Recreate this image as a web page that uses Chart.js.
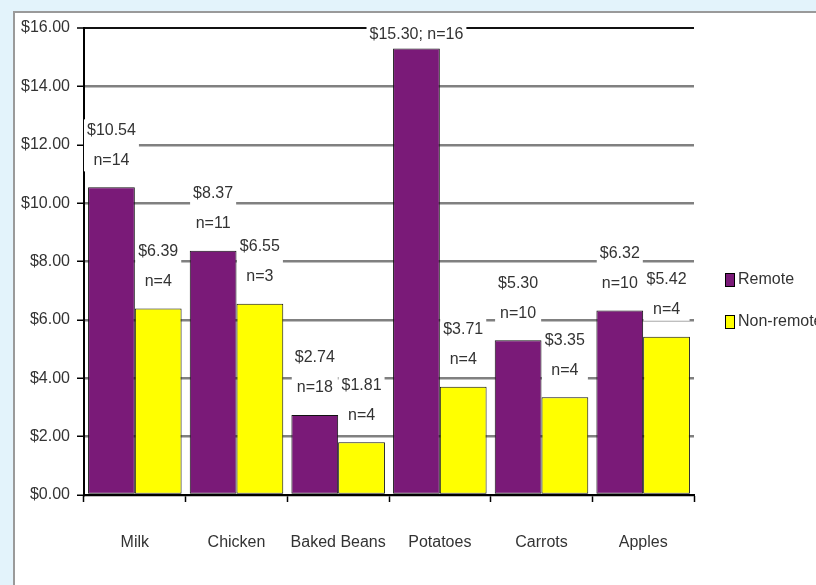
<!DOCTYPE html>
<html>
<head>
<meta charset="utf-8">
<script src="https://cdn.jsdelivr.net/npm/chart.js@4"></script>
<style>
  html, body { margin: 0; padding: 0; }
  body { width: 816px; height: 585px; background: #e3f3fb; position: relative; overflow: hidden; }
  .panel { position: absolute; left: 13px; top: 11px; width: 820px; height: 590px; background: #fff;
           border-left: 2px solid #9a9a9a; border-top: 2px solid #9a9a9a; }
  #chart { position: absolute; left: 0; top: 0; }
</style>
</head>
<body>
<div class="panel"></div>
<canvas id="chart" width="816" height="585"></canvas>
<script>
// Food prices, remote vs non-remote stores
const categories = ['Milk', 'Chicken', 'Baked Beans', 'Potatoes', 'Carrots', 'Apples'];
const remotePrices = [10.54, 8.37, 2.74, 15.30, 5.30, 6.32];
const nonRemotePrices = [6.39, 6.55, 1.81, 3.71, 3.35, 5.42];
const remoteCounts = [14, 11, 18, 16, 10, 10];
const nonRemoteCounts = [4, 3, 4, 4, 4, 4];
const yTicks = [0, 2, 4, 6, 8, 10, 12, 14, 16];

const FONT = '"Liberation Sans Narrow", "Liberation Sans", sans-serif';
const PURPLE = '#7a1a78';
const YELLOW = '#ffff00';

// price + count labels sitting on white boxes above each bar
const barLabels = {
    id: 'barLabels',
    beforeDatasetsDraw(chart) {
        const ctx = chart.ctx;
        const counts = [remoteCounts, nonRemoteCounts];
        ctx.save();
        ctx.font = '16px ' + FONT;
        ctx.textAlign = 'center';
        ctx.textBaseline = 'middle';
        chart.data.datasets.forEach((ds, di) => {
            chart.getDatasetMeta(di).data.forEach((bar, i) => {
                const price = '$' + ds.data[i].toFixed(2);
                const n = 'n=' + counts[di][i];
                let lines, ys;
                if (bar.y - 66 < chart.chartArea.top) {
                    // no room for two lines under the top gridline
                    lines = [price + '; ' + n];
                    ys = [bar.y - 14];
                } else {
                    lines = [price, n];
                    ys = [bar.y - 57, bar.y - 27];
                }
                const w = Math.max(...lines.map(t => ctx.measureText(t).width)) + 6;
                ctx.fillStyle = '#fff';
                ctx.fillRect(bar.x - w / 2, ys[0] - 11, w, ys[ys.length - 1] - ys[0] + 22);
                ctx.fillStyle = '#333';
                lines.forEach((t, k) => ctx.fillText(t, bar.x, ys[k]));
            });
        });
        ctx.restore();
    }
};

// legend at the right edge
const sideLegend = {
    id: 'sideLegend',
    afterDraw(chart) {
        const ctx = chart.ctx;
        ctx.save();
        ctx.font = '16px ' + FONT;
        ctx.textBaseline = 'middle';
        ctx.textAlign = 'left';
        const rows = [280, 322];
        chart.data.datasets.forEach((ds, i) => {
            const y = rows[i];
            ctx.fillStyle = ds.backgroundColor;
            ctx.fillRect(725, y - 7, 10, 14);
            ctx.strokeStyle = '#000';
            ctx.lineWidth = 1;
            ctx.strokeRect(725.5, y - 6.5, 9, 13);
            ctx.fillStyle = '#333';
            ctx.fillText(ds.label, 738, y);
        });
        ctx.restore();
    }
};

new Chart(document.getElementById('chart'), {
    type: 'bar',
    data: {
        labels: categories,
        datasets: [
            { label: 'Remote', data: remotePrices, backgroundColor: PURPLE },
            { label: 'Non-remote', data: nonRemotePrices, backgroundColor: YELLOW }
        ]
    },
    options: {
        responsive: false,
        animation: false,
        layout: { padding: { left: 0, top: 28, right: 122, bottom: 0 } },
        datasets: {
            bar: {
                categoryPercentage: 0.92,
                barPercentage: 1,
                borderColor: '#111',
                borderWidth: 1,
                borderSkipped: false
            }
        },
        plugins: {
            legend: { display: false },
            tooltip: { enabled: false }
        },
        scales: {
            x: {
                afterFit(scale) { scale.height = 90; },
                grid: { drawOnChartArea: false, drawTicks: true, tickLength: 7, tickColor: '#000', tickWidth: 1.5 },
                border: { color: '#000', width: 2 },
                ticks: { color: '#333', padding: 31, font: { family: FONT, size: 16 }, maxRotation: 0 }
            },
            y: {
                min: 0,
                max: 16,
                afterFit(scale) { scale.width = 84; },
                afterBuildTicks(scale) { scale.ticks = yTicks.map(v => ({ value: v })); },
                grid: {
                    color: c => (c.tick && c.tick.value === 16) ? '#111' : '#808080',
                    lineWidth: c => (c.tick && c.tick.value === 16) ? 2 : 2.5,
                    tickLength: 7,
                    tickColor: '#000',
                    tickWidth: 1.5
                },
                border: { color: '#000', width: 2 },
                ticks: {
                    color: '#333',
                    padding: 7,
                    font: { family: FONT, size: 16 },
                    callback: v => '$' + Number(v).toFixed(2)
                }
            }
        }
    },
    plugins: [barLabels, sideLegend]
});
</script>
</body>
</html>
